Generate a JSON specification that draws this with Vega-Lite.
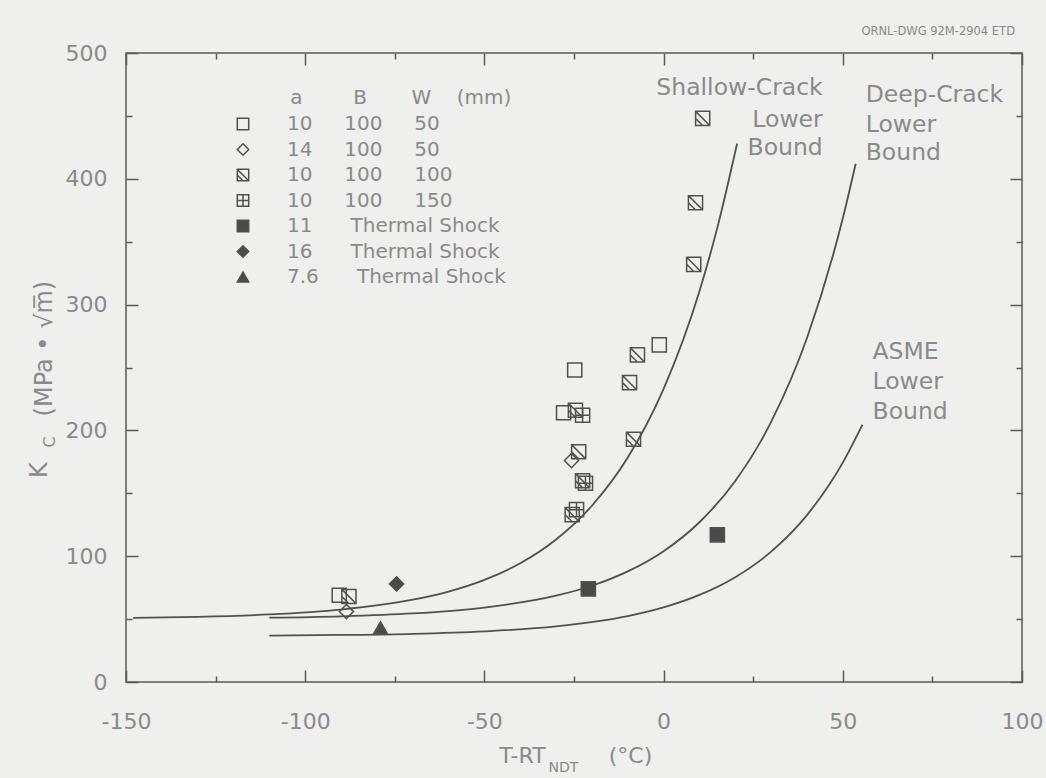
{
  "$schema": "https://vega.github.io/schema/vega-lite/v6.json",
  "width": 896,
  "height": 629,
  "autosize": "none",
  "padding": {"left": 126, "top": 53, "right": 24, "bottom": 96},
  "background": "#efefed",
  "title": {"text": "ORNL-DWG 92M-2904 ETD", "anchor": "end", "fontSize": 11.5, "font": "DejaVu Sans", "fontWeight": "normal", "color": "#8a8a8a", "offset": 5, "dx": -28},
  "config": {"view": {"stroke": "#5a5a5a", "strokeWidth": 1.5}, "font": "DejaVu Sans"},
  "datasets": {
    "curves": [
      {"curve": "Shallow-Crack Lower Bound", "t": -148, "k": 51.0},
      {"curve": "Shallow-Crack Lower Bound", "t": -130, "k": 51.8},
      {"curve": "Shallow-Crack Lower Bound", "t": -110, "k": 53.7},
      {"curve": "Shallow-Crack Lower Bound", "t": -90, "k": 57.6},
      {"curve": "Shallow-Crack Lower Bound", "t": -70, "k": 65.4},
      {"curve": "Shallow-Crack Lower Bound", "t": -60, "k": 71.9},
      {"curve": "Shallow-Crack Lower Bound", "t": -50, "k": 81.2},
      {"curve": "Shallow-Crack Lower Bound", "t": -40, "k": 94.4},
      {"curve": "Shallow-Crack Lower Bound", "t": -30, "k": 113.3},
      {"curve": "Shallow-Crack Lower Bound", "t": -20, "k": 140.1},
      {"curve": "Shallow-Crack Lower Bound", "t": -10, "k": 178.4},
      {"curve": "Shallow-Crack Lower Bound", "t": 0, "k": 233},
      {"curve": "Shallow-Crack Lower Bound", "t": 10, "k": 310.7},
      {"curve": "Shallow-Crack Lower Bound", "t": 15, "k": 361.2},
      {"curve": "Shallow-Crack Lower Bound", "t": 20.5, "k": 428},
      {"curve": "Deep-Crack Lower Bound", "t": -110, "k": 51.1},
      {"curve": "Deep-Crack Lower Bound", "t": -90, "k": 52.2},
      {"curve": "Deep-Crack Lower Bound", "t": -70, "k": 54.5},
      {"curve": "Deep-Crack Lower Bound", "t": -50, "k": 59.2},
      {"curve": "Deep-Crack Lower Bound", "t": -30, "k": 68.6},
      {"curve": "Deep-Crack Lower Bound", "t": -20, "k": 76.5},
      {"curve": "Deep-Crack Lower Bound", "t": -10, "k": 87.9},
      {"curve": "Deep-Crack Lower Bound", "t": 0, "k": 104},
      {"curve": "Deep-Crack Lower Bound", "t": 10, "k": 127},
      {"curve": "Deep-Crack Lower Bound", "t": 20, "k": 159.8},
      {"curve": "Deep-Crack Lower Bound", "t": 30, "k": 206.7},
      {"curve": "Deep-Crack Lower Bound", "t": 40, "k": 273.4},
      {"curve": "Deep-Crack Lower Bound", "t": 50, "k": 368.6},
      {"curve": "Deep-Crack Lower Bound", "t": 53.6, "k": 412},
      {"curve": "ASME Lower Bound", "t": -110, "k": 36.9},
      {"curve": "ASME Lower Bound", "t": -90, "k": 37.4},
      {"curve": "ASME Lower Bound", "t": -70, "k": 38.3},
      {"curve": "ASME Lower Bound", "t": -50, "k": 40.3},
      {"curve": "ASME Lower Bound", "t": -30, "k": 44.2},
      {"curve": "ASME Lower Bound", "t": -10, "k": 52.4},
      {"curve": "ASME Lower Bound", "t": 0, "k": 59.3},
      {"curve": "ASME Lower Bound", "t": 10, "k": 69.2},
      {"curve": "ASME Lower Bound", "t": 20, "k": 83.3},
      {"curve": "ASME Lower Bound", "t": 30, "k": 103.6},
      {"curve": "ASME Lower Bound", "t": 40, "k": 132.7},
      {"curve": "ASME Lower Bound", "t": 50, "k": 174.4},
      {"curve": "ASME Lower Bound", "t": 55.5, "k": 204.6}
    ],
    "pts": [
      {"series": "10 100 50", "t": -24.8, "k": 248},
      {"series": "10 100 50", "t": -27.9, "k": 214},
      {"series": "10 100 50", "t": -1.2, "k": 268},
      {"series": "10 100 50", "t": -90.5, "k": 69},
      {"series": "14 100 50", "t": -25.7, "k": 176},
      {"series": "14 100 50", "t": -88.5, "k": 56},
      {"series": "10 100 100", "t": 10.9, "k": 448},
      {"series": "10 100 100", "t": 8.9, "k": 381},
      {"series": "10 100 100", "t": 8.4, "k": 332},
      {"series": "10 100 100", "t": -7.3, "k": 260},
      {"series": "10 100 100", "t": -9.5, "k": 238},
      {"series": "10 100 100", "t": -8.4, "k": 193},
      {"series": "10 100 100", "t": -24.6, "k": 216},
      {"series": "10 100 100", "t": -23.7, "k": 183},
      {"series": "10 100 100", "t": -22.6, "k": 160},
      {"series": "10 100 100", "t": -25.5, "k": 133},
      {"series": "10 100 100", "t": -87.8, "k": 68},
      {"series": "10 100 150", "t": -22.6, "k": 212},
      {"series": "10 100 150", "t": -21.8, "k": 158},
      {"series": "10 100 150", "t": -24.3, "k": 137},
      {"series": "11 Thermal Shock", "t": -21, "k": 74},
      {"series": "11 Thermal Shock", "t": 15, "k": 117},
      {"series": "16 Thermal Shock", "t": -74.5, "k": 78},
      {"series": "7.6 Thermal Shock", "t": -79, "k": 43}
    ],
    "notesR": [
      {"t": 44.4, "k": 472, "text": "Shallow-Crack"},
      {"t": 44.4, "k": 447, "text": "Lower"},
      {"t": 44.4, "k": 424.5, "text": "Bound"}
    ],
    "notesL": [
      {"t": 56.4, "k": 466.6, "text": "Deep-Crack"},
      {"t": 56.4, "k": 442.8, "text": "Lower"},
      {"t": 56.4, "k": 420.5, "text": "Bound"},
      {"t": 58.3, "k": 262, "text": "ASME"},
      {"t": 58.3, "k": 238.5, "text": "Lower"},
      {"t": 58.3, "k": 214.6, "text": "Bound"}
    ]
  },
  "layer": [
    {
      "encoding": {
        "x": {"field": "t", "type": "quantitative", "title": null,
          "scale": {"domain": [-150, 100], "nice": false, "zero": false},
          "axis": {"orient": "bottom", "title": null, "domain": false, "grid": false,
            "values": [-150, -125, -100, -75, -50, -25, 0, 25, 50, 75, 100],
            "tickColor": "#5a5a5a", "tickWidth": 1.5,
            "tickSize": {"condition": {"test": "datum.value % 50 === 0", "value": -12}, "value": -6},
            "labelExpr": "datum.value % 50 === 0 ? '' + datum.value : ''",
            "labelFontSize": 22, "labelColor": "#8a8a8a", "labelFont": "DejaVu Sans",
            "labelPadding": 41, "labelOverlap": false, "labelFlush": false, "labelBound": false}},
        "y": {"field": "k", "type": "quantitative", "title": null,
          "scale": {"domain": [0, 500], "nice": false, "zero": false},
          "axis": {"orient": "left", "title": null, "domain": false, "grid": false,
            "values": [0, 50, 100, 150, 200, 250, 300, 350, 400, 450, 500],
            "tickColor": "#5a5a5a", "tickWidth": 1.5,
            "tickSize": {"condition": {"test": "datum.value % 100 === 0", "value": -12}, "value": -6},
            "labelExpr": "datum.value % 100 === 0 ? '' + datum.value : ''",
            "labelFontSize": 22, "labelColor": "#8a8a8a", "labelFont": "DejaVu Sans",
            "labelPadding": 31, "labelOverlap": false, "labelFlush": false, "labelBound": false}}
      },
      "layer": [
        {
          "data": {"name": "curves"},
          "mark": {"type": "line", "stroke": "#505050", "strokeWidth": 1.8, "interpolate": "monotone"},
          "encoding": {"detail": {"field": "curve", "type": "nominal"}}
        },
        {
          "data": {"name": "pts"},
          "mark": {"type": "point", "filled": true, "strokeWidth": 1.5, "size": 200, "opacity": 1},
          "encoding": {
            "shape": {"field": "series", "type": "nominal",
              "scale": {
                "domain": ["10 100 50", "14 100 50", "10 100 100", "10 100 150", "11 Thermal Shock", "16 Thermal Shock", "7.6 Thermal Shock"],
                "range": ["M-1,-1H1V1H-1Z", "diamond", "M-1,-1H1V1H-1Z M-1,-1L1,1 M-1,0L0,1", "M-1,-1H1V1H-1Z M0,-1V1 M-1,0H1", "M-1,-1H1V1H-1Z", "diamond", "triangle-up"]},
              "legend": {
                "orient": "none", "legendX": 107, "legendY": 35,
                "title": "\u200b\u00a0\u00a0\u00a0\u00a0\u00a0\u00a0\u00a0\u00a0\u00a0a\u00a0\u00a0\u00a0\u00a0\u00a0\u00a0\u00a0\u00a0B\u00a0\u00a0\u00a0\u00a0\u00a0\u00a0\u00a0W\u00a0\u00a0\u00a0\u00a0(mm)",
                "titleFontSize": 20, "titleFontWeight": "normal", "titleColor": "#8a8a8a", "titleFont": "DejaVu Sans", "titlePadding": 6, "titleLimit": 600,
                "labelFontSize": 20, "labelColor": "#8a8a8a", "labelFont": "DejaVu Sans", "labelOffset": 34,
                "labelExpr": "replace(replace(datum.label, ' 100 ', '\u00a0\u00a0\u00a0\u00a0\u00a0100\u00a0\u00a0\u00a0\u00a0\u00a0'), ' Thermal', '\u00a0\u00a0\u00a0\u00a0\u00a0\u00a0Thermal')",
                "symbolSize": 130, "symbolStrokeWidth": 1.5, "rowPadding": 5.5, "padding": 0, "labelLimit": 400}},
            "fill": {"field": "series", "type": "nominal",
              "scale": {
                "domain": ["10 100 50", "14 100 50", "10 100 100", "10 100 150", "11 Thermal Shock", "16 Thermal Shock", "7.6 Thermal Shock"],
                "range": ["transparent", "transparent", "transparent", "transparent", "#4a4a4a", "#4a4a4a", "#4a4a4a"]},
              "legend": {
                "orient": "none", "legendX": 107, "legendY": 35,
                "title": "\u200b\u00a0\u00a0\u00a0\u00a0\u00a0\u00a0\u00a0\u00a0\u00a0a\u00a0\u00a0\u00a0\u00a0\u00a0\u00a0\u00a0\u00a0B\u00a0\u00a0\u00a0\u00a0\u00a0\u00a0\u00a0W\u00a0\u00a0\u00a0\u00a0(mm)",
                "titleFontSize": 20, "titleFontWeight": "normal", "titleColor": "#8a8a8a", "titleFont": "DejaVu Sans", "titlePadding": 6, "titleLimit": 600,
                "labelFontSize": 20, "labelColor": "#8a8a8a", "labelFont": "DejaVu Sans", "labelOffset": 34,
                "labelExpr": "replace(replace(datum.label, ' 100 ', '\u00a0\u00a0\u00a0\u00a0\u00a0100\u00a0\u00a0\u00a0\u00a0\u00a0'), ' Thermal', '\u00a0\u00a0\u00a0\u00a0\u00a0\u00a0Thermal')",
                "symbolSize": 130, "symbolStrokeWidth": 1.5, "rowPadding": 5.5, "padding": 0, "labelLimit": 400}},
            "stroke": {"field": "series", "type": "nominal",
              "scale": {
                "domain": ["10 100 50", "14 100 50", "10 100 100", "10 100 150", "11 Thermal Shock", "16 Thermal Shock", "7.6 Thermal Shock"],
                "range": ["#505050", "#505050", "#505050", "#505050", "#505050", "#505050", "#505050"]},
              "legend": {
                "orient": "none", "legendX": 107, "legendY": 35,
                "title": "\u200b\u00a0\u00a0\u00a0\u00a0\u00a0\u00a0\u00a0\u00a0\u00a0a\u00a0\u00a0\u00a0\u00a0\u00a0\u00a0\u00a0\u00a0B\u00a0\u00a0\u00a0\u00a0\u00a0\u00a0\u00a0W\u00a0\u00a0\u00a0\u00a0(mm)",
                "titleFontSize": 20, "titleFontWeight": "normal", "titleColor": "#8a8a8a", "titleFont": "DejaVu Sans", "titlePadding": 6, "titleLimit": 600,
                "labelFontSize": 20, "labelColor": "#8a8a8a", "labelFont": "DejaVu Sans", "labelOffset": 34,
                "labelExpr": "replace(replace(datum.label, ' 100 ', '\u00a0\u00a0\u00a0\u00a0\u00a0100\u00a0\u00a0\u00a0\u00a0\u00a0'), ' Thermal', '\u00a0\u00a0\u00a0\u00a0\u00a0\u00a0Thermal')",
                "symbolSize": 130, "symbolStrokeWidth": 1.5, "rowPadding": 5.5, "padding": 0, "labelLimit": 400}}
          }
        },
        {
          "data": {"name": "notesR"},
          "mark": {"type": "text", "align": "right", "baseline": "middle", "fontSize": 23.5, "color": "#8a8a8a", "font": "DejaVu Sans"},
          "encoding": {"text": {"field": "text", "type": "nominal"}}
        },
        {
          "data": {"name": "notesL"},
          "mark": {"type": "text", "align": "left", "baseline": "middle", "fontSize": 23.5, "color": "#8a8a8a", "font": "DejaVu Sans"},
          "encoding": {"text": {"field": "text", "type": "nominal"}}
        },
        {
          "data": {"values": [{"t": -32.9, "k": -58.5, "text": "T-RT"}]},
          "mark": {"type": "text", "align": "right", "baseline": "middle", "fontSize": 22, "color": "#8a8a8a", "font": "DejaVu Sans"},
          "encoding": {"text": {"field": "text", "type": "nominal"}}
        },
        {
          "data": {"values": [{"t": -15.3, "k": -58.5, "text": "(°C)"}]},
          "mark": {"type": "text", "align": "left", "baseline": "middle", "fontSize": 22, "color": "#8a8a8a", "font": "DejaVu Sans"},
          "encoding": {"text": {"field": "text", "type": "nominal"}}
        },
        {
          "data": {"values": [{"t": -32.1, "k": -68.2, "text": "NDT"}]},
          "mark": {"type": "text", "align": "left", "baseline": "middle", "fontSize": 14, "color": "#8a8a8a", "font": "DejaVu Sans"},
          "encoding": {"text": {"field": "text", "type": "nominal"}}
        },
        {
          "data": {"values": [{"t": -174.1, "k": 168.5, "text": "K"}]},
          "mark": {"type": "text", "align": "center", "baseline": "middle", "angle": 270, "fontSize": 24, "color": "#8a8a8a", "font": "DejaVu Sans"},
          "encoding": {"text": {"field": "text", "type": "nominal"}}
        },
        {
          "data": {"values": [{"t": -172.7, "k": 265, "text": "(MPa \u2022 √m\u0305)"}]},
          "mark": {"type": "text", "align": "center", "baseline": "middle", "angle": 270, "fontSize": 24, "color": "#8a8a8a", "font": "DejaVu Sans"},
          "encoding": {"text": {"field": "text", "type": "nominal"}}
        },
        {
          "data": {"values": [{"t": -171.3, "k": 190.8, "text": "C"}]},
          "mark": {"type": "text", "align": "center", "baseline": "middle", "angle": 270, "fontSize": 16, "color": "#8a8a8a", "font": "DejaVu Sans"},
          "encoding": {"text": {"field": "text", "type": "nominal"}}
        }
      ]
    },
    {
      "data": {"name": "pts"},
      "mark": {"type": "point", "opacity": 0},
      "encoding": {
        "x": {"field": "t", "type": "quantitative", "title": null,
          "scale": {"domain": [-150, 100], "nice": false, "zero": false},
          "axis": {"orient": "top", "title": null, "domain": false, "grid": false, "labels": false,
            "values": [-150, -125, -100, -75, -50, -25, 0, 25, 50, 75, 100],
            "tickColor": "#5a5a5a", "tickWidth": 1.5,
            "tickSize": {"condition": {"test": "datum.value % 50 === 0", "value": -12}, "value": -6}}},
        "y": {"field": "k", "type": "quantitative", "title": null,
          "scale": {"domain": [0, 500], "nice": false, "zero": false},
          "axis": {"orient": "right", "title": null, "domain": false, "grid": false, "labels": false,
            "values": [0, 50, 100, 150, 200, 250, 300, 350, 400, 450, 500],
            "tickColor": "#5a5a5a", "tickWidth": 1.5,
            "tickSize": {"condition": {"test": "datum.value % 100 === 0", "value": -12}, "value": -6}}}
      }
    }
  ],
  "resolve": {"axis": {"x": "independent", "y": "independent"}}
}
